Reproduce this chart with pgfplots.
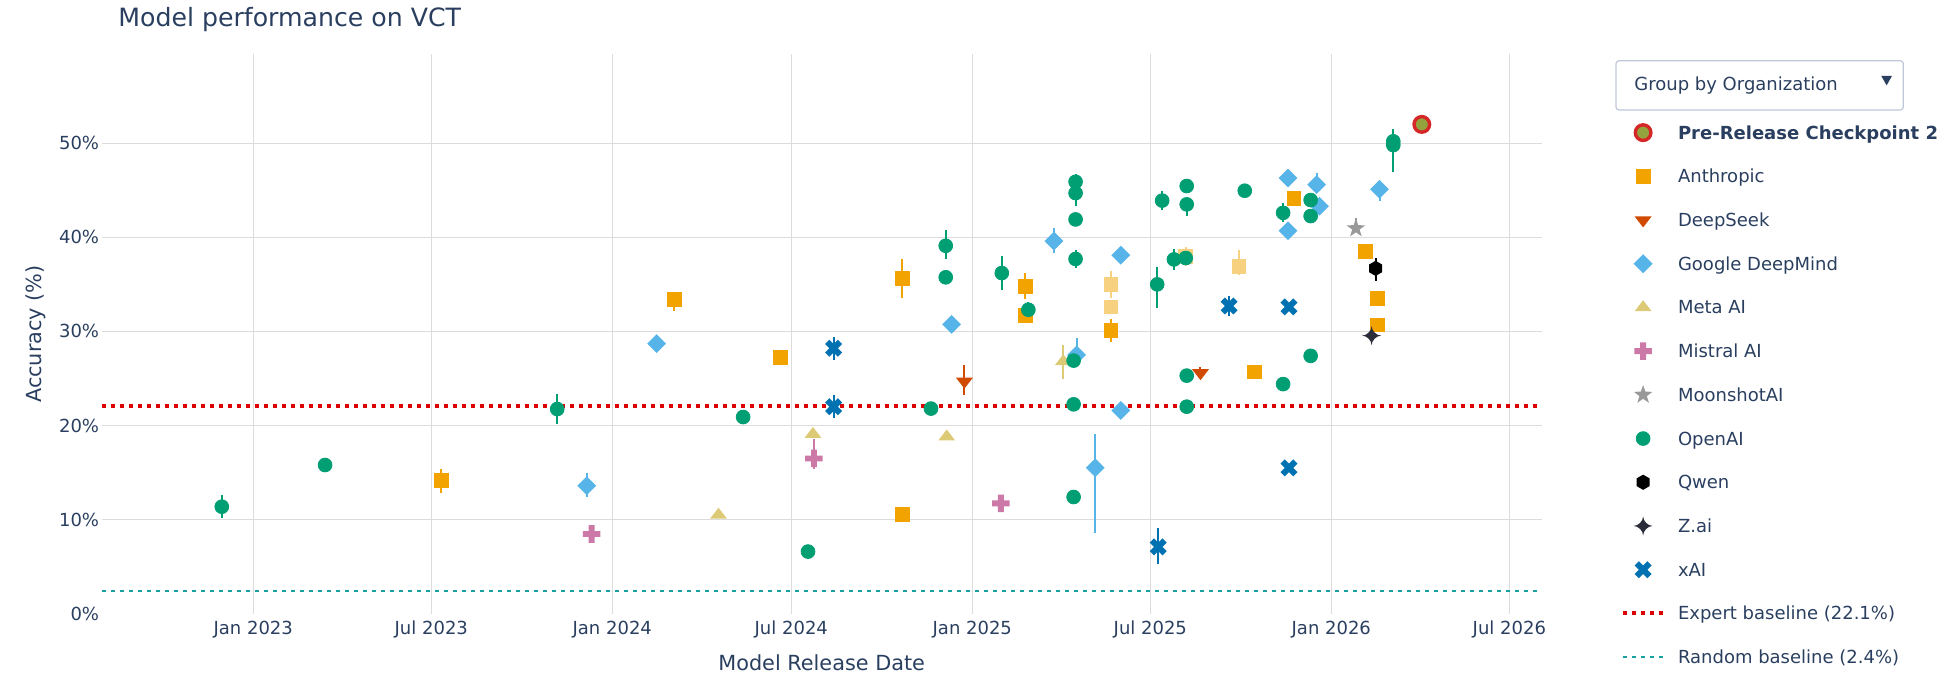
\documentclass[border=0pt]{standalone}
\usepackage{fontspec}
\setmainfont{DejaVu Sans}
\usepackage{pgfplots}
\usepackage{pgfplotstable}
\pgfplotsset{compat=1.18}

\definecolor{textcol}{HTML}{2A3F5F}
\definecolor{gridcol}{HTML}{DCDCDC}
\definecolor{boxcol}{HTML}{BEC8D9}
\definecolor{openai}{HTML}{009E73}
\definecolor{anth}{HTML}{F2A300}
\definecolor{deepseek}{HTML}{D04A02}
\definecolor{gdm}{HTML}{56B4E9}
\definecolor{meta}{HTML}{DDCA77}
\definecolor{mistral}{HTML}{CC79A7}
\definecolor{moonshot}{HTML}{999999}
\definecolor{qwen}{HTML}{000000}
\definecolor{zai}{HTML}{2B2E3A}
\definecolor{xai}{HTML}{0072B2}
\definecolor{exred}{HTML}{DD0000}
\definecolor{randteal}{HTML}{17A2A0}
\definecolor{prered}{HTML}{D62728}
\definecolor{preolive}{HTML}{94A33D}

\pgfdeclareplotmark{mdia}{%
 \pgfpathmoveto{\pgfqpoint{0pt}{\pgfplotmarksize}}%
 \pgfpathlineto{\pgfqpoint{\pgfplotmarksize}{0pt}}%
 \pgfpathlineto{\pgfqpoint{0pt}{-\pgfplotmarksize}}%
 \pgfpathlineto{\pgfqpoint{-\pgfplotmarksize}{0pt}}%
 \pgfpathclose\pgfusepathqfill}
\pgfdeclareplotmark{mtriup}{%
 \pgfpathmoveto{\pgfqpoint{0pt}{\pgfplotmarksize}}%
 \pgfpathlineto{\pgfqpoint{1.1547\pgfplotmarksize}{-0.5\pgfplotmarksize}}%
 \pgfpathlineto{\pgfqpoint{-1.1547\pgfplotmarksize}{-0.5\pgfplotmarksize}}%
 \pgfpathclose\pgfusepathqfill}
\pgfdeclareplotmark{mtridown}{%
 \pgfpathmoveto{\pgfqpoint{0pt}{-\pgfplotmarksize}}%
 \pgfpathlineto{\pgfqpoint{1.1547\pgfplotmarksize}{0.5\pgfplotmarksize}}%
 \pgfpathlineto{\pgfqpoint{-1.1547\pgfplotmarksize}{0.5\pgfplotmarksize}}%
 \pgfpathclose\pgfusepathqfill}
\pgfdeclareplotmark{mplus}{%
 \pgfpathmoveto{\pgfqpoint{\pgfplotmarksize}{0.3333\pgfplotmarksize}}%
 \pgfpathlineto{\pgfqpoint{0.3333\pgfplotmarksize}{0.3333\pgfplotmarksize}}%
 \pgfpathlineto{\pgfqpoint{0.3333\pgfplotmarksize}{\pgfplotmarksize}}%
 \pgfpathlineto{\pgfqpoint{-0.3333\pgfplotmarksize}{\pgfplotmarksize}}%
 \pgfpathlineto{\pgfqpoint{-0.3333\pgfplotmarksize}{0.3333\pgfplotmarksize}}%
 \pgfpathlineto{\pgfqpoint{-\pgfplotmarksize}{0.3333\pgfplotmarksize}}%
 \pgfpathlineto{\pgfqpoint{-\pgfplotmarksize}{-0.3333\pgfplotmarksize}}%
 \pgfpathlineto{\pgfqpoint{-0.3333\pgfplotmarksize}{-0.3333\pgfplotmarksize}}%
 \pgfpathlineto{\pgfqpoint{-0.3333\pgfplotmarksize}{-\pgfplotmarksize}}%
 \pgfpathlineto{\pgfqpoint{0.3333\pgfplotmarksize}{-\pgfplotmarksize}}%
 \pgfpathlineto{\pgfqpoint{0.3333\pgfplotmarksize}{-0.3333\pgfplotmarksize}}%
 \pgfpathlineto{\pgfqpoint{\pgfplotmarksize}{-0.3333\pgfplotmarksize}}%
 \pgfpathclose\pgfusepathqfill}
\pgfdeclareplotmark{mx}{%
 \pgfpathmoveto{\pgfqpoint{0pt}{0.5\pgfplotmarksize}}%
 \pgfpathlineto{\pgfqpoint{0.5\pgfplotmarksize}{\pgfplotmarksize}}%
 \pgfpathlineto{\pgfqpoint{\pgfplotmarksize}{0.5\pgfplotmarksize}}%
 \pgfpathlineto{\pgfqpoint{0.5\pgfplotmarksize}{0pt}}%
 \pgfpathlineto{\pgfqpoint{\pgfplotmarksize}{-0.5\pgfplotmarksize}}%
 \pgfpathlineto{\pgfqpoint{0.5\pgfplotmarksize}{-\pgfplotmarksize}}%
 \pgfpathlineto{\pgfqpoint{0pt}{-0.5\pgfplotmarksize}}%
 \pgfpathlineto{\pgfqpoint{-0.5\pgfplotmarksize}{-\pgfplotmarksize}}%
 \pgfpathlineto{\pgfqpoint{-\pgfplotmarksize}{-0.5\pgfplotmarksize}}%
 \pgfpathlineto{\pgfqpoint{-0.5\pgfplotmarksize}{0pt}}%
 \pgfpathlineto{\pgfqpoint{-\pgfplotmarksize}{0.5\pgfplotmarksize}}%
 \pgfpathlineto{\pgfqpoint{-0.5\pgfplotmarksize}{\pgfplotmarksize}}%
 \pgfpathclose\pgfusepathqfill}
\pgfdeclareplotmark{mstar}{%
 \pgfpathmoveto{\pgfpointpolar{90}{\pgfplotmarksize}}%
 \pgfpathlineto{\pgfpointpolar{126}{0.4\pgfplotmarksize}}%
 \pgfpathlineto{\pgfpointpolar{162}{\pgfplotmarksize}}%
 \pgfpathlineto{\pgfpointpolar{198}{0.4\pgfplotmarksize}}%
 \pgfpathlineto{\pgfpointpolar{234}{\pgfplotmarksize}}%
 \pgfpathlineto{\pgfpointpolar{270}{0.4\pgfplotmarksize}}%
 \pgfpathlineto{\pgfpointpolar{306}{\pgfplotmarksize}}%
 \pgfpathlineto{\pgfpointpolar{342}{0.4\pgfplotmarksize}}%
 \pgfpathlineto{\pgfpointpolar{18}{\pgfplotmarksize}}%
 \pgfpathlineto{\pgfpointpolar{54}{0.4\pgfplotmarksize}}%
 \pgfpathclose\pgfusepathqfill}
\pgfdeclareplotmark{mhex}{%
 \pgfpathmoveto{\pgfpointpolar{90}{\pgfplotmarksize}}%
 \pgfpathlineto{\pgfpointpolar{150}{\pgfplotmarksize}}%
 \pgfpathlineto{\pgfpointpolar{210}{\pgfplotmarksize}}%
 \pgfpathlineto{\pgfpointpolar{270}{\pgfplotmarksize}}%
 \pgfpathlineto{\pgfpointpolar{330}{\pgfplotmarksize}}%
 \pgfpathlineto{\pgfpointpolar{30}{\pgfplotmarksize}}%
 \pgfpathclose\pgfusepathqfill}
\pgfdeclareplotmark{mstarfour}{%
 \pgfpathmoveto{\pgfqpoint{-\pgfplotmarksize}{0pt}}%
 \pgfpathcurveto{\pgfqpoint{-0.5\pgfplotmarksize}{0pt}}{\pgfqpoint{0pt}{-0.5\pgfplotmarksize}}{\pgfqpoint{0pt}{-\pgfplotmarksize}}%
 \pgfpathcurveto{\pgfqpoint{0pt}{-0.5\pgfplotmarksize}}{\pgfqpoint{0.5\pgfplotmarksize}{0pt}}{\pgfqpoint{\pgfplotmarksize}{0pt}}%
 \pgfpathcurveto{\pgfqpoint{0.5\pgfplotmarksize}{0pt}}{\pgfqpoint{0pt}{0.5\pgfplotmarksize}}{\pgfqpoint{0pt}{\pgfplotmarksize}}%
 \pgfpathcurveto{\pgfqpoint{0pt}{0.5\pgfplotmarksize}}{\pgfqpoint{-0.5\pgfplotmarksize}{0pt}}{\pgfqpoint{-\pgfplotmarksize}{0pt}}%
 \pgfpathclose\pgfusepathqfill}

\pgfplotsset{eb/.style={error bars/y dir=both, error bars/y explicit, error bars/error mark=none, error bars/error bar style={line width=1pt}}}

% d = days since 1 Jan 2023, v = accuracy (%), ep/em = error bar up/down
\pgfplotstableread{
d v ep em
-32 11.37 1.2 1.2
73 15.8 0.4 0.4
309 21.75 1.6 1.6
498 20.9 0.3 0.3
564 6.6 0.3 0.3
689 21.8 0.6 0.4
704 39.1 1.7 1.4
704 35.75 0.3 0.3
761 36.2 1.8 1.8
788 32.3 0.8 0.8
836 45.9 0.8 0.6
836 44.7 0.6 1.4
836 41.9 0.3 0.3
836 37.7 0.9 1.0
834 26.9 0.4 0.4
834 22.25 0.5 0.5
834 12.4 0.4 0.4
919 35.0 1.8 2.5
924 43.9 1.0 1.0
936 37.65 1.1 1.1
948 37.8 0.5 0.5
949 45.45 0.5 0.5
949 43.5 0.5 1.2
949 25.3 0.4 0.4
949 22.0 0.5 0.5
1008 44.95 0.4 0.4
1047 42.6 1.0 1.0
1047 24.4 0.4 0.4
1075 43.96 0.6 0.6
1075 42.26 0.6 0.6
1075 27.4 0.4 0.4
1159 50.2 1.3 1.0
1159 49.8 0.6 2.9
}\tOpenAI
\pgfplotstableread{
d v ep em
191 14.13 1.3 1.3
428 33.4 0.8 1.2
536 27.2 0.3 0.3
660 35.6 2.1 2.0
660 10.56 0.3 0.3
785 34.8 1.4 1.4
785 31.7 0.4 0.4
872 30.1 1.2 1.2
1018 25.7 0.5 0.4
1058 44.1 0.5 0.5
1131 38.5 0.4 0.4
1143 33.5 0.4 0.4
1143 30.7 0.5 0.5
}\tAnth
\pgfplotstableread{
d v ep em
872 35.0 1.4 1.4
872 32.6 0.5 0.5
948 38.0 1.0 1.0
1002 36.9 1.8 0.9
}\tAnthL
\pgfplotstableread{
d v ep em
723 24.7 1.7 1.5
963 25.6 0.6 0.3
}\tDeepSeek
\pgfplotstableread{
d v ep em
339 13.6 1.3 1.2
410 28.7 0.3 0.3
710 30.75 0.3 0.3
814 39.6 1.4 1.3
837 27.5 1.8 0.5
856 15.5 3.6 6.9
882 38.1 0.4 0.4
882 21.6 0.5 0.5
1052 46.3 0.4 0.4
1052 40.7 0.4 0.4
1081 45.6 1.2 0.5
1084 43.3 0.5 0.5
1145 45.1 0.3 1.2
}\tGDM
\pgfplotstableread{
d v ep em
473 10.49 0.3 0.3
569 19.07 0.3 0.3
705 18.8 0.3 0.3
823.5 26.8 1.8 1.9
}\tMeta
\pgfplotstableread{
d v ep em
344 8.47 0.6 0.6
570 16.5 2.1 1.1
760 11.73 0.7 0.7
}\tMistral
\pgfplotstableread{
d v ep em
1121 40.95 1.1 0.3
}\tMoonshot
\pgfplotstableread{
d v ep em
1141 36.7 1.1 1.3
}\tQwen
\pgfplotstableread{
d v ep em
1137 29.55 0.2 0.2
}\tZai
\pgfplotstableread{
d v ep em
590 28.2 1.2 1.2
590 22.0 1.2 1.2
920 7.1 2.0 1.8
992 32.7 1.1 1.1
1053 32.6 0.3 0.3
1053 15.5 0.3 0.3
}\txAI

\begin{document}
\begin{tikzpicture}
\useasboundingbox (0,0) rectangle (971.5pt,341.5pt);
\begin{axis}[
 at={(50.8pt,34.65pt)}, anchor=south west, scale only axis,
 width=720.05pt, height=279.65pt,
 xmin=-154.2, xmax=1309.9, ymin=0, ymax=59.44,
 axis line style={draw=none}, major tick length=0pt, tick style={draw=none},
 xtick={0,181,365,547,731,912,1096,1277},
 xticklabels={Jan 2023,Jul 2023,Jan 2024,Jul 2024,Jan 2025,Jul 2025,Jan 2026,Jul 2026},
 ytick={10,20,30,40,50},
 yticklabels={10\%,20\%,30\%,40\%,50\%},
 extra y ticks={0}, extra y tick labels={0\%}, extra y tick style={grid=none},
 grid=major, major grid style={draw=gridcol, line width=0.7pt},
 tick label style={font=\fontsize{9}{11}\selectfont, text=textcol},
 xticklabel style={anchor=north, inner sep=0pt, text height=6.6pt, text depth=0pt, yshift=-3.55pt},
 yticklabel style={anchor=east, inner sep=0pt, xshift=-1.05pt},
 xlabel={Model Release Date}, ylabel={Accuracy (\%)},
 label style={font=\fontsize{10.4}{12}\selectfont, text=textcol},
 xlabel style={at={(axis description cs:0.5,-0.1007)}, anchor=base},
 ylabel style={at={(axis description cs:-0.04159,0.5)}, anchor=base},
 legend image code/.code={\draw[mark repeat=2,mark phase=2,#1] plot coordinates {(0pt,0pt) (10.25pt,0pt) (20.5pt,0pt)};},
 legend cell align=left,
 legend style={at={(1.05479,0.89916)}, anchor=north west, draw=none, fill=none,
   inner sep=0pt, outer sep=0pt, row sep=0pt, column sep=6.2pt,
   font=\fontsize{9}{11}\selectfont, text=textcol,
   nodes={inner sep=0pt, text height=14.2pt, text depth=7.65pt}},
]
\addplot[only marks, mark=*, mark size=3.9pt, mark options={fill=preolive, draw=prered, line width=1.7pt}] coordinates {(1188,52.0)};
\addlegendentry{\textbf{Pre-Release Checkpoint 2}}

\addplot[only marks, color=anth, mark=square*, mark size=3.45pt, eb] table[x=d,y=v,y error plus=ep,y error minus=em] {\tAnth};
\addlegendentry{Anthropic}
\addplot[forget plot, only marks, color=anth!50!white, mark=square*, mark size=3.45pt, eb] table[x=d,y=v,y error plus=ep,y error minus=em] {\tAnthL};

\addplot[only marks, color=deepseek, mark=mtridown, mark size=3.7pt, eb] table[x=d,y=v,y error plus=ep,y error minus=em] {\tDeepSeek};
\addlegendentry{DeepSeek}

\addplot[only marks, color=gdm, mark=mdia, mark size=4.7pt, eb] table[x=d,y=v,y error plus=ep,y error minus=em] {\tGDM};
\addlegendentry{Google DeepMind}

\addplot[only marks, color=meta, mark=mtriup, mark size=3.65pt, eb] table[x=d,y=v,y error plus=ep,y error minus=em] {\tMeta};
\addlegendentry{Meta AI}

\addplot[only marks, color=mistral, mark=mplus, mark size=4.4pt, eb] table[x=d,y=v,y error plus=ep,y error minus=em] {\tMistral};
\addlegendentry{Mistral AI}

\addplot[only marks, color=moonshot, mark=mstar, mark size=4.9pt, eb] table[x=d,y=v,y error plus=ep,y error minus=em] {\tMoonshot};
\addlegendentry{MoonshotAI}

\addplot[only marks, color=openai, mark=*, mark size=3.45pt, eb] table[x=d,y=v,y error plus=ep,y error minus=em] {\tOpenAI};
\addlegendentry{OpenAI}

\addplot[only marks, color=qwen, mark=mhex, mark size=3.8pt, eb] table[x=d,y=v,y error plus=ep,y error minus=em] {\tQwen};
\addlegendentry{Qwen}

\addplot[only marks, color=zai, mark=mstarfour, mark size=4.8pt, eb] table[x=d,y=v,y error plus=ep,y error minus=em] {\tZai};
\addlegendentry{Z.ai}

\addplot[only marks, color=xai, mark=mx, mark size=4.25pt, eb] table[x=d,y=v,y error plus=ep,y error minus=em] {\txAI};
\addlegendentry{xAI}

\addplot[exred, line width=2pt, dash pattern=on 2pt off 2.5pt] coordinates {(-154.2,22.1) (1309.9,22.1)};
\addlegendentry{Expert baseline (22.1\%)}
\addplot[randteal, line width=1.35pt, dash pattern=on 2.3pt off 2.2pt] coordinates {(-154.2,2.4) (1309.9,2.4)};
\addlegendentry{Random baseline (2.4\%)}
\end{axis}

\node[anchor=base west, inner sep=0pt, text=textcol, font=\fontsize{12.6}{15}\selectfont] at (59pt,328.15pt) {Model performance on VCT};
\draw[draw=boxcol, line width=0.6pt, rounded corners=1.5pt, fill=white] (808pt,286.5pt) rectangle (951.65pt,311.15pt);
\node[anchor=base west, inner sep=0pt, text=textcol, font=\fontsize{9}{11}\selectfont] at (817pt,296.15pt) {Group by Organization};
\fill[textcol] (940.65pt,303.5pt) -- (945.95pt,303.5pt) -- (943.3pt,298.8pt) -- cycle;
\end{tikzpicture}
\end{document}
